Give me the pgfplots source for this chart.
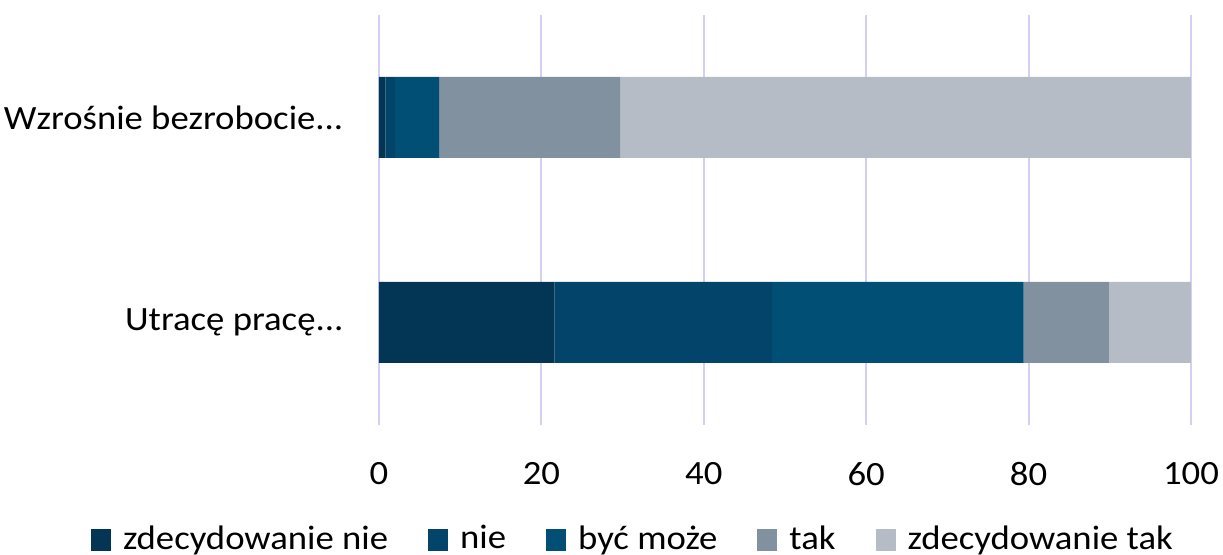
\documentclass[border=0pt]{standalone}
\usepackage{fontspec}
\setmainfont{Carlito}[FakeStretch=1.08]
\usepackage{pgfplots}
\pgfplotsset{compat=1.18}

\definecolor{cZN}{HTML}{023654}
\definecolor{cN}{HTML}{03456A}
\definecolor{cBM}{HTML}{024F75}
\definecolor{cT}{HTML}{8291A0}
\definecolor{cZT}{HTML}{B5BCC6}
\definecolor{gridc}{HTML}{D4D0F2}

\begin{document}
\begin{tikzpicture}
\fontsize{17}{20}\selectfont
\begin{axis}[
    xbar stacked,
    scale only axis,
    width=406pt, height=205pt,
    xmin=0, xmax=100,
    ymin=-0.5, ymax=1.5,
    bar width=40.5pt,
    ytick={0,1},
    yticklabels={{Utracę pracę{.}{.}{.}}, {Wzrośnie bezrobocie{.}{.}{.}}},
    xtick={0,20,40,60,80,100},
    axis line style={draw=none},
    major tick style={draw=none},
    xmajorgrids=true,
    grid style={draw=gridc, line width=1pt},
    ticklabel style={font=\fontsize{17}{20}\selectfont},
    /pgf/number format/assume math mode=true,
    yticklabel style={xshift=-12pt},
    xticklabel style={yshift=-13pt},
    legend columns=5,
    legend style={draw=none, at={(0.314,-0.28)}, anchor=center,
        font=\fontsize{17}{20}\selectfont,
        /tikz/every odd column/.append style={column sep=4pt},
        /tikz/every even column/.append style={column sep=18pt}},
    legend image code/.code={\fill[#1] (0pt,-5.5pt) rectangle (10pt,5.5pt);},
]
\addplot[draw=none, fill=cZN] coordinates {(21.6,0) (0.8,1)};
\addplot[draw=none, fill=cN] coordinates {(26.8,0) (1.2,1)};
\addplot[draw=none, fill=cBM] coordinates {(31.0,0) (5.4,1)};
\addplot[draw=none, fill=cT] coordinates {(10.5,0) (22.3,1)};
\addplot[draw=none, fill=cZT] coordinates {(10.1,0) (70.3,1)};
\legend{zdecydowanie nie, nie, być może, tak, zdecydowanie tak}
\end{axis}
\pgfresetboundingbox
\path ([xshift=-189.5pt,yshift=7.5pt]current axis.north west)
  rectangle ([xshift=16pt,yshift=-65pt]current axis.south east);
\end{tikzpicture}
\end{document}
